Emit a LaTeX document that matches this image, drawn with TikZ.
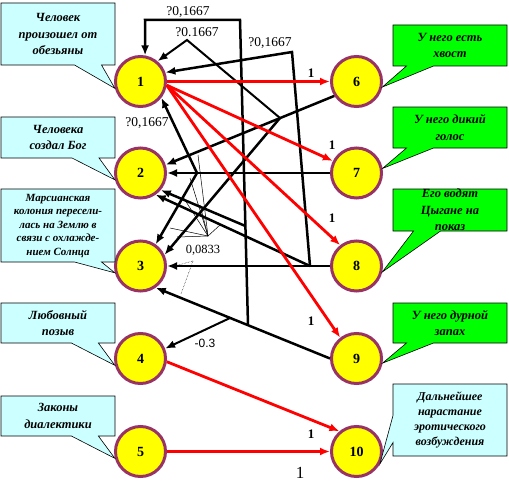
\documentclass[tikz,border=0pt]{standalone}
\usepackage{fontspec}
\setmainfont{Liberation Serif}
\setsansfont{Liberation Sans}
\usetikzlibrary{arrows.meta,shapes.callouts,calc}
\definecolor{vborder}{HTML}{993366}
\definecolor{vfill}{HTML}{FFFF00}
\definecolor{notecyan}{HTML}{CCFFFF}
\definecolor{factgreen}{HTML}{00FF00}
\definecolor{arcred}{HTML}{FF0000}

\begin{document}
\begin{tikzpicture}[x = 1pt, y = -1pt, thick]
\tikzstyle{vertex} = [shape = circle, minimum size = 50pt, inner sep = 0pt, line width = 3pt, draw = vborder, fill = vfill, font = \fontsize{14}{14}\selectfont\bfseries]
\tikzstyle{note} = [rectangle callout, draw, line width = 0.6pt, fill = notecyan, minimum width = 114pt, inner sep = 0pt, align = center, callout pointer width = 27pt, font = \fontsize{12.5}{16.5}\selectfont\bfseries\itshape]
\tikzstyle{fact} = [note, fill = factgreen]
\tikzstyle{arc} = [line width = 2.5pt, -{Latex[length = 10pt, width = 8pt]}]
\tikzstyle{redarc} = [arc, draw = arcred, line width = 2.8pt]
\tikzstyle{fine} = [line width = 0.5pt]
\tikzstyle{weight} = [inner sep = 0pt, font = \fontsize{13.5}{14}\selectfont]
\tikzstyle{one} = [inner sep = 0pt, font = \fontsize{13}{13}\selectfont\bfseries]
\useasboundingbox (0, 0) rectangle (509, 487);
\node[vertex] (V-1) at (140.5, 81.5) {1};
\node[vertex] (V-2) at (140.5, 173) {2};
\node[vertex] (V-3) at (140.5, 266) {3};
\node[vertex] (V-4) at (140.5, 358.5) {4};
\node[vertex] (V-5) at (140.5, 451.5) {5};
\node[vertex] (V-6) at (356.5, 81.5) {6};
\node[vertex] (V-7) at (356.5, 173) {7};
\node[vertex] (V-8) at (356.5, 266) {8};
\node[vertex] (V-9) at (356.5, 358.5) {9};
\node[vertex] (V-10) at (356.5, 451.5) {10};
% junctions and corners
\coordinate (B-1) at (145, 20);
\coordinate (B-2) at (240, 20);
\coordinate (B-3) at (292, 52);
\coordinate (A-1) at (187, 40);
\coordinate (J-1) at (248, 325);
\coordinate (J-2) at (280, 118);
\coordinate (J-3) at (310, 266);
\coordinate (J-4) at (230, 318);
\coordinate (J-5) at (245.4, 226);
\coordinate (J-6) at (197, 173);
\coordinate (F-0) at (208, 236);
\coordinate (F-1) at (198, 155);
\coordinate (F-2) at (190, 178);
\coordinate (F-3) at (183, 197);
\coordinate (F-4) at (170, 228);
\coordinate (F-5) at (177, 237);
\coordinate (F-6) at (220, 225);
\coordinate (F-7) at (200, 205);
\coordinate (F-8) at (193, 261);
\coordinate (F-9) at (171, 267);
\coordinate (F-10) at (181, 294);
% thin lines
\draw[fine] (F-1) -- (F-0);
\draw[fine] (F-2) -- (F-0);
\draw[fine] (F-3) -- (F-0);
\draw[fine] (F-4) -- (F-0);
\draw[fine] (F-5) -- (F-0);
\draw[fine] (F-6) -- (F-0);
\draw[fine] (F-7) -- (F-0);
\draw[fine, densely dotted] (F-8) -- (F-9);
\draw[fine, densely dotted] (F-8) -- (F-10);
% black arcs
\draw[arc] (J-1) -- (B-2) -- (B-1) -- (V-1.80);
\draw[arc, line width = 2pt] (J-2) -- (A-1) -- (V-1.50);
\draw[arc] (V-6.213) -- (V-2.18);
\draw[arc] (J-2) -- (V-3.25);
\draw[arc] (J-3) -- (B-3) -- (V-1.20);
\draw[arc] (V-7) -- (V-2);
\draw[arc] (V-8) -- (V-3);
\draw[arc] (V-9.west) -- (V-3.-55);
\draw[arc, line width = 2pt] (J-4) -- (V-4.22);
\draw[arc] (J-5) -- (V-2.-40);
\draw[arc] (J-3) -- (V-2.-55);
\draw[arc] (J-6) -- (V-1.-38);
\draw[arc] (J-6) -- (V-3.55);
% red arcs
\draw[redarc] (V-1) -- (V-6);
\draw[redarc] (V-1.-8) -- (V-7.153);
\draw[redarc] (V-1.-8) -- (V-8.128);
\draw[redarc] (V-1.-8) -- (V-9.128);
\draw[redarc] (V-4.-7) -- (V-10.130);
\draw[redarc] (V-5) -- (V-10);
% weights
\node[weight] (W-1) at (188, 12) {?0,1667};
\node[weight] (W-2) at (197, 32) {?0.1667};
\node[weight] (W-3) at (270, 43) {?0,1667};
\node[weight] (W-4) at (147, 123) {?0,1667};
\node[weight, font = \fontsize{12.5}{13}\selectfont] (W-5) at (203, 250) {0,0833};
\node[weight, font = \fontsize{12}{13}\selectfont\sffamily] (W-6) at (205, 343) {-0.3};
\node[one] (W-7) at (311, 73) {1};
\node[one] (W-8) at (332, 145) {1};
\node[one] (W-9) at (332, 218) {1};
\node[one] (W-10) at (311, 321) {1};
\node[one] (W-11) at (311, 434) {1};
\node[weight, font = \fontsize{17}{17}\selectfont] (W-12) at (300, 473) {1};
% callouts
\node[note, minimum height = 62pt, callout absolute pointer = {(V-1.195)}] (T-1) at (58, 34) {Человек\\произошел от\\обезьяны};
\node[note, minimum height = 41pt, callout absolute pointer = {(V-2.195)}] (T-2) at (58, 137.5) {Человека\\создал Бог};
\node[note, minimum height = 73pt, callout absolute pointer = {(V-3.195)}, font = \fontsize{11}{13.5}\selectfont\bfseries\itshape] (T-3) at (58, 225.5) {Марсианская\\колония пересели-\\лась на Землю в\\связи с охлажде-\\нием Солнца};
\node[note, minimum height = 40pt, callout absolute pointer = {(V-4.195)}] (T-4) at (58, 323) {Любовный\\позыв};
\node[note, minimum height = 40pt, callout absolute pointer = {(V-5.195)}] (T-5) at (58, 416) {Законы\\диалектики};
\node[fact, minimum height = 41pt, callout absolute pointer = {(V-6.-12)}] (T-6) at (450, 45.5) {У него есть\\хвост};
\node[fact, minimum height = 41pt, callout absolute pointer = {(V-7.10)}] (T-7) at (450, 127.5) {У него дикий\\голос};
\node[fact, minimum height = 42pt, callout absolute pointer = {(V-8.-13)}] (T-8) at (450, 210) {Его водят\\Цыгане на\\показ};
\node[fact, minimum height = 40pt, callout absolute pointer = {(V-9.-10)}] (T-9) at (450, 323) {У него дурной\\запах};
\node[note, minimum height = 72pt, callout absolute pointer = {(V-10.-28)}, font = \fontsize{12}{15}\selectfont\bfseries\itshape] (T-10) at (450, 420) {Дальнейшее\\нарастание\\эротического\\возбуждения};
\end{tikzpicture}
\end{document}
